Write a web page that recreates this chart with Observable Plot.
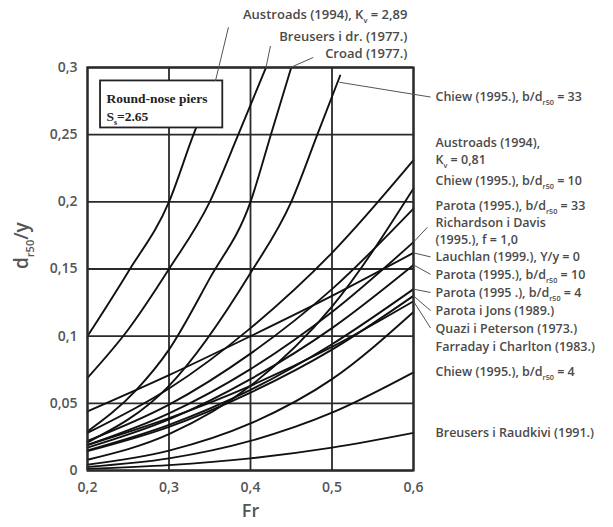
<!DOCTYPE html>
<html><head><meta charset="utf-8">
<script src="https://cdn.jsdelivr.net/npm/d3@7"></script>
<script src="https://cdn.jsdelivr.net/npm/@observablehq/plot@0.6"></script>
<style>
body{margin:0;background:#fff}
#chart svg text{font-weight:600}
</style></head><body><div id="chart"></div>
<script>
const xTicks=[0.2,0.3,0.4,0.5,0.6];
const yTicks=[0,0.05,0.1,0.15,0.2,0.25,0.3];

// curves: [Fr, d_r50/y]
const austroads289=[[0.2,0.1],[0.25,0.148],[0.3,0.2],[0.33,0.25],[0.357,0.29]];
const breusersDr=[[0.2,0.069],[0.25,0.105],[0.3,0.15],[0.35,0.2],[0.385,0.25],[0.419,0.3]];
const croad=[[0.2,0.029],[0.26,0.06],[0.3,0.09],[0.35,0.143],[0.4,0.2],[0.425,0.25],[0.45,0.3]];
const chiew33=[[0.2,0.021],[0.3,0.063],[0.4,0.147],[0.45,0.2],[0.482,0.25],[0.51,0.294]];
const austroads081=[[0.2,0.028],[0.3,0.061],[0.4,0.106],[0.5,0.162],[0.6,0.231]];
const chiew10=[[0.2,0.008],[0.3,0.027],[0.4,0.063],[0.5,0.122],[0.6,0.21]];
const parota33=[[0.2,0.022],[0.3,0.049],[0.4,0.087],[0.5,0.135],[0.6,0.195]];
const richardson=[[0.2,0.019],[0.3,0.0425],[0.4,0.0755],[0.5,0.118],[0.6,0.17]];
const lauchlan=[[0.2,0.044],[0.3,0.071],[0.4,0.1],[0.5,0.13],[0.6,0.162]];
const parota10=[[0.2,0.017],[0.3,0.038],[0.4,0.068],[0.5,0.106],[0.6,0.153]];
const parota4=[[0.2,0.015],[0.3,0.034],[0.4,0.06],[0.5,0.094],[0.6,0.135]];
const parotaJons=[[0.2,0.0144],[0.3,0.0325],[0.4,0.058],[0.5,0.09],[0.6,0.13]];
const quazi=[[0.2,0.019],[0.3,0.039],[0.4,0.063],[0.5,0.092],[0.6,0.126]];
const farraday=[[0.2,0.0044],[0.3,0.0148],[0.4,0.035],[0.5,0.068],[0.6,0.118]];
const chiew4=[[0.2,0.0027],[0.3,0.009],[0.4,0.022],[0.5,0.043],[0.6,0.073]];
const breusersR=[[0.2,0.0013],[0.3,0.004],[0.4,0.009],[0.5,0.017],[0.6,0.028]];

const curveNames=["Austroads 2,89","Breusers i dr.","Croad","Chiew 33","Austroads 0,81","Chiew 10","Parota 33","Richardson i Davis","Lauchlan","Parota 10","Parota 4","Parota i Jons","Quazi i Peterson","Farraday i Charlton","Chiew 4","Breusers i Raudkivi"];
const curveData=[austroads289,breusersDr,croad,chiew33,austroads081,chiew10,parota33,richardson,lauchlan,parota10,parota4,parotaJons,quazi,farraday,chiew4,breusersR];

// labels right of plot
const rightLabels=["Chiew (1995.), b/d{r50} = 33","Austroads (1994),","K{v} = 0,81","Chiew (1995.), b/d{r50} = 10","Parota (1995.), b/d{r50} = 33","Richardson i Davis","(1995.), f = 1,0","Lauchlan (1999.), Y/y = 0","Parota (1995.), b/d{r50} = 10","Parota (1995 .), b/d{r50} = 4","Parota i Jons (1989.)","Quazi i Peterson (1973.)","Farraday i Charlton (1983.)","Chiew (1995.), b/d{r50} = 4","Breusers i Raudkivi (1991.)"];
const rightLabelY=[0.2777,0.2439,0.2308,0.2152,0.1970,0.1841,0.1713,0.1586,0.1458,0.1325,0.1188,0.1057,0.0923,0.073,0.0276];
const rightLabelFr=0.627;

// labels above plot
const topLabels=["Austroads (1994), K{v} = 2,89","Breusers i dr. (1977.)","Croad (1977.)"];
const topLabelY=[0.3392,0.3232,0.3105];
const topLabelFr=0.5926;

// leader lines
const leaderFrom=[[0.357,0.29],[0.419,0.3],[0.449,0.3],[0.509,0.289],[0.6,0.17],[0.6,0.162],[0.6,0.153],[0.6,0.135],[0.6,0.13],[0.6,0.126]];
const leaderTo=[[0.373,0.33],[0.4245,0.316],[0.477,0.3075],[0.621,0.278],[0.617,0.181],[0.621,0.159],[0.621,0.146],[0.621,0.1325],[0.621,0.119],[0.621,0.106]];

// inset box
const boxFr=[0.216,0.366];
const boxD=[0.255,0.29];
const boxText=["Round-nose piers","S{s}=2.65"];
const boxTextY=[0.2765,0.2635];
const boxTextFr=0.2233;

const fmt=d=>String(d).replace(".",",");
const rows=curveNames.flatMap((name,i)=>curveData[i].map(([fr,d])=>({name,fr,d})));
const leaders=leaderFrom.map((f,i)=>({x1:f[0],y1:f[1],x2:leaderTo[i][0],y2:leaderTo[i][1]}));
const rl=rightLabels.map((t,i)=>({t,x:rightLabelFr,y:rightLabelY[i]}));
const tl=topLabels.map((t,i)=>({t,x:topLabelFr,y:topLabelY[i]}));
const bt=boxText.map((t,i)=>({t,x:boxTextFr,y:boxTextY[i]}));

const chart=Plot.plot({
  width:613,height:527,
  marginLeft:87,marginRight:200,marginTop:67,marginBottom:57,
  style:{fontFamily:"Open Sans",color:"#555",background:"#fff"},
  x:{domain:[0.2,0.6]},
  y:{domain:[0,0.3]},
  marks:[
    Plot.ruleX(xTicks,{stroke:"#2a2a2a",strokeWidth:1.8}),
    Plot.ruleY(yTicks,{stroke:"#2a2a2a",strokeWidth:1.8}),
    Plot.line(rows,{x:"fr",y:"d",z:"name",curve:"monotone-x",stroke:"#111",strokeWidth:1.9}),
    Plot.rect([{x1:boxFr[0],x2:boxFr[1],y1:boxD[0],y2:boxD[1]}],{x1:"x1",x2:"x2",y1:"y1",y2:"y2",fill:"#fff",stroke:"#222",strokeWidth:1.8}),
    Plot.text(bt,{x:"x",y:"y",text:"t",textAnchor:"start",fontFamily:"Liberation Serif",fontSize:13.5,fill:"#222"}),
    Plot.frame({stroke:"#2a2a2a",strokeWidth:2.2}),
    Plot.link(leaders,{x1:"x1",y1:"y1",x2:"x2",y2:"y2",stroke:"#555",strokeWidth:1}),
    Plot.text(rl,{x:"x",y:"y",text:"t",textAnchor:"start",fontSize:12.5,fill:"#4a4a4a"}),
    Plot.text(tl,{x:"x",y:"y",text:"t",textAnchor:"end",fontSize:13,fill:"#4a4a4a"}),
    Plot.axisX(xTicks,{tickFormat:fmt,tickSize:0,tickPadding:12,label:null,fontSize:14}),
    Plot.axisY(yTicks,{tickFormat:fmt,tickSize:0,tickPadding:10,label:null,fontSize:14}),
    Plot.text(["Fr"],{frameAnchor:"bottom",dy:46,fontSize:18,fill:"#555"}),
    Plot.text(["d{r50}/y"],{frameAnchor:"left",dx:-66,rotate:-90,fontSize:19,fill:"#555"})
  ]
});
// render {sub} markup as subscripts
function subscripts(root){
  root.querySelectorAll("text, tspan").forEach(el=>{
    Array.from(el.childNodes).forEach(node=>{
      if(node.nodeType!==3||!node.nodeValue.includes("{"))return;
      const parts=node.nodeValue.split(/\{([^}]*)\}/);
      const frag=document.createDocumentFragment();
      parts.forEach((p,i)=>{
        if(!p)return;
        if(i%2){
          const ts=document.createElementNS("http://www.w3.org/2000/svg","tspan");
          ts.setAttribute("font-size","0.58em");
          ts.setAttribute("baseline-shift","-0.5em");
          ts.textContent=p;frag.appendChild(ts);
        } else frag.appendChild(document.createTextNode(p));
      });
      el.replaceChild(frag,node);
    });
  });
}
subscripts(chart);
document.getElementById("chart").appendChild(chart);
</script></body></html>
